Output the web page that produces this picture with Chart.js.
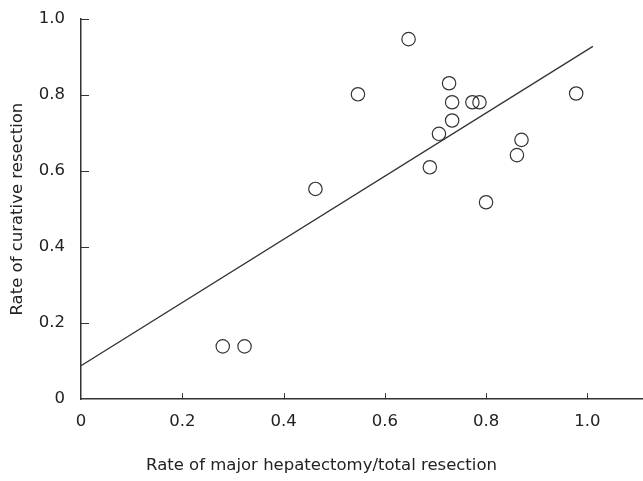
<!DOCTYPE html>
<html>
<head>
<meta charset="utf-8">
<script src="https://cdn.jsdelivr.net/npm/chart.js@4/dist/chart.umd.min.js"></script>
<style>
  html, body { margin: 0; padding: 0; background: #fff; }
  #wrap { width: 643px; height: 481px; }
</style>
</head>
<body>
<div id="wrap"><canvas id="chart"></canvas></div>
<script>
// data
const majorRate = [0.280, 0.323, 0.463, 0.547, 0.647, 0.689, 0.707, 0.727, 0.733, 0.733, 0.773, 0.787, 0.800, 0.861, 0.870, 0.978];
const curativeRate = [0.139, 0.139, 0.553, 0.802, 0.947, 0.610, 0.698, 0.831, 0.781, 0.733, 0.781, 0.781, 0.518, 0.642, 0.682, 0.804];

// fitted line end points
const fitX = [0, 1.011];
const fitY = [0.088, 0.928];

const xTicks = [0, 0.2, 0.4, 0.6, 0.8, 1.0];
const yTicks = [0, 0.2, 0.4, 0.6, 0.8, 1.0];

const FONT = 'DejaVu Sans, Verdana, sans-serif';
const INK = '#333';
const SIZE = 16.5;

function fmt(v) {
  return v === 0 ? '0' : v.toFixed(1);
}

// ticks point into the plot area
const innerTicks = {
  id: 'innerTicks',
  afterDraw(chart) {
    const ctx = chart.ctx;
    const x = chart.scales.x, y = chart.scales.y;
    ctx.save();
    ctx.strokeStyle = INK;
    ctx.lineWidth = 1;
    xTicks.forEach(v => {
      if (v === 0) return;
      const px = Math.round(x.getPixelForValue(v)) + 0.5;
      ctx.beginPath();
      ctx.moveTo(px, x.top);
      ctx.lineTo(px, x.top - 6);
      ctx.stroke();
    });
    yTicks.forEach(v => {
      if (v === 0) return;
      const py = Math.round(y.getPixelForValue(v)) + 0.5;
      ctx.beginPath();
      ctx.moveTo(y.right, py);
      ctx.lineTo(y.right + 8, py);
      ctx.stroke();
    });
    ctx.restore();
  }
};

const points = majorRate.map((v, i) => ({ x: v, y: curativeRate[i] }));
const fit = fitX.map((v, i) => ({ x: v, y: fitY[i] }));

new Chart(document.getElementById('chart'), {
  type: 'scatter',
  data: {
    datasets: [
      {
        data: fit,
        showLine: true,
        borderColor: INK,
        borderWidth: 1.3,
        pointRadius: 0,
        order: 2
      },
      {
        data: points,
        pointStyle: 'circle',
        pointRadius: 6.7,
        pointBorderWidth: 1.2,
        pointBorderColor: INK,
        pointBackgroundColor: 'rgba(255,255,255,0)',
        order: 1
      }
    ]
  },
  options: {
    responsive: true,
    maintainAspectRatio: false,
    animation: false,
    layout: { autoPadding: false, padding: { top: 19, right: 0, left: 0, bottom: 0 } },
    plugins: {
      legend: { display: false },
      tooltip: { enabled: false },
      title: {
        display: true,
        position: 'bottom',
        text: 'Rate of major hepatectomy/total resection',
        color: '#222',
        font: { family: FONT, size: SIZE, weight: 'normal' },
        padding: { top: 17, bottom: 5 }
      }
    },
    scales: {
      x: {
        type: 'linear',
        min: 0,
        max: 1.11,
        afterBuildTicks: s => { s.ticks = xTicks.map(v => ({ value: v })); },
        afterFit: s => { s.height = 40; s.paddingLeft = 0; s.paddingRight = 0; },
        grid: { display: false, drawTicks: false },
        border: { display: true, color: INK, width: 1.5 },
        ticks: {
          callback: v => fmt(v),
          color: '#222',
          padding: 13,
          maxRotation: 0,
          font: { family: FONT, size: SIZE }
        }
      },
      y: {
        type: 'linear',
        min: 0,
        max: 1.0,
        afterBuildTicks: s => { s.ticks = yTicks.map(v => ({ value: v })); },
        afterFit: s => { s.width = 81; s.paddingTop = 0; s.paddingBottom = 0; },
        grid: { display: false, drawTicks: false },
        border: { display: true, color: INK, width: 1.5 },
        title: {
          display: true,
          text: 'Rate of curative resection',
          color: '#222',
          font: { family: FONT, size: SIZE },
          padding: { top: 8, bottom: 0 }
        },
        ticks: {
          callback: v => fmt(v),
          color: '#222',
          padding: 16,
          font: { family: FONT, size: SIZE }
        }
      }
    }
  },
  plugins: [innerTicks]
});
</script>
</body>
</html>
